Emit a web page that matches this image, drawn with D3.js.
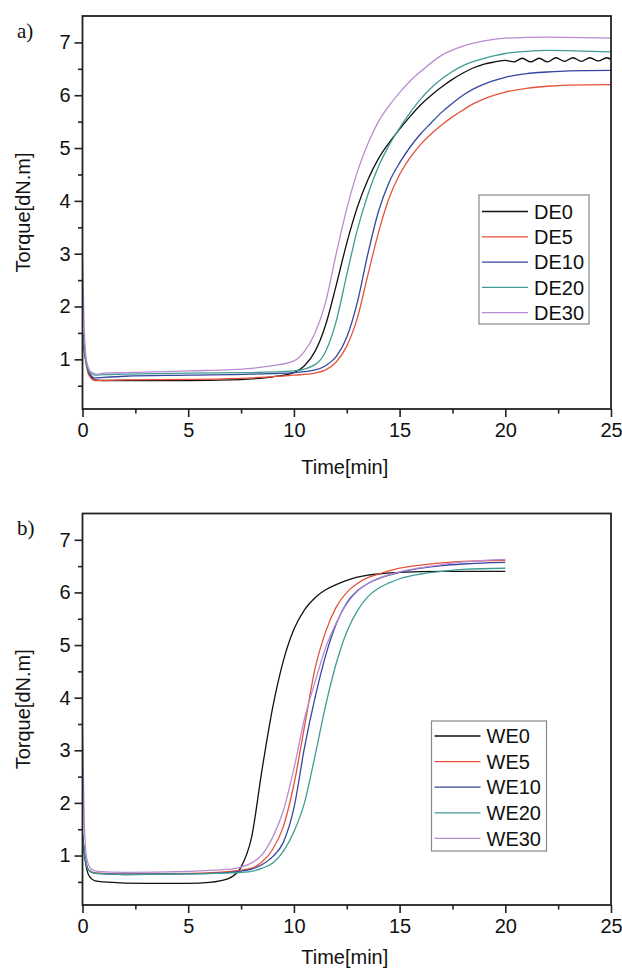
<!DOCTYPE html>
<html>
<head>
<meta charset="utf-8">
<script src="https://cdn.jsdelivr.net/npm/d3@7"></script>
<style>
  html, body { margin: 0; padding: 0; background: #fff; }
  svg { display: block; }
  text { font-family: "Liberation Sans", Arial, sans-serif; fill: #111; }
</style>
</head>
<body>
<svg id="chart" width="622" height="971"></svg>
<script>
// ---------------- DATA ----------------
const xTicks = [0, 5, 10, 15, 20, 25];
const yTicks = [1, 2, 3, 4, 5, 6, 7];

const seriesNamesA = ["DE0", "DE5", "DE10", "DE20", "DE30"];
const seriesNamesB = ["WE0", "WE5", "WE10", "WE20", "WE30"];

// [time(min), torque(dN.m)]
const DE0 = [[0,1.5],[0.15,1.0],[0.3,0.75],[0.6,0.61],[1,0.6],[2,0.6],[3,0.6],[5,0.6],[7,0.61],[8,0.63],[9,0.67],[10,0.75],[10.5,0.88],[11,1.15],[11.5,1.65],[12,2.4],[12.5,3.2],[13,3.88],[13.5,4.4],[14,4.8],[14.5,5.1],[15,5.36],[15.5,5.6],[16,5.82],[16.5,6.0],[17,6.16],[17.5,6.3],[18,6.42],[18.5,6.52],[19,6.59],[19.5,6.63],[20,6.66],[20.4,6.63],[20.8,6.7],[21.2,6.63],[21.6,6.7],[22,6.63],[22.4,6.71],[22.8,6.64],[23.2,6.71],[23.6,6.64],[24,6.71],[24.4,6.65],[24.8,6.71],[25,6.68]];
const DE5 = [[0,1.4],[0.15,0.95],[0.3,0.7],[0.6,0.6],[1,0.6],[2,0.61],[5,0.62],[8,0.65],[10,0.7],[11,0.74],[11.5,0.8],[12,0.95],[12.5,1.25],[13,1.78],[13.5,2.6],[14,3.4],[14.5,4.05],[15,4.5],[15.5,4.82],[16,5.07],[16.5,5.27],[17,5.44],[17.5,5.59],[18,5.72],[18.5,5.84],[19,5.93],[19.5,6.0],[20,6.06],[21,6.13],[22,6.17],[23,6.19],[25,6.2]];
const DE10 = [[0,1.5],[0.15,1.0],[0.3,0.75],[0.6,0.65],[1,0.66],[2,0.68],[5,0.7],[8,0.72],[10,0.75],[11,0.8],[11.5,0.88],[12,1.05],[12.5,1.42],[13,2.08],[13.5,3.0],[14,3.8],[14.5,4.35],[15,4.72],[15.5,5.02],[16,5.27],[16.5,5.48],[17,5.68],[17.5,5.85],[18,6.0],[18.5,6.12],[19,6.21],[19.5,6.28],[20,6.34],[21,6.41],[22,6.44],[23,6.46],[25,6.47]];
const DE20 = [[0,1.5],[0.15,1.0],[0.3,0.78],[0.6,0.7],[1,0.71],[2,0.72],[5,0.74],[8,0.75],[10,0.78],[11,0.9],[11.5,1.15],[12,1.72],[12.5,2.6],[13,3.45],[13.5,4.12],[14,4.65],[14.5,5.05],[15,5.38],[15.5,5.67],[16,5.93],[16.5,6.14],[17,6.31],[17.5,6.45],[18,6.56],[18.5,6.64],[19,6.7],[19.5,6.75],[20,6.79],[21,6.83],[22,6.85],[25,6.82]];
const DE30 = [[0,2.9],[0.08,1.6],[0.2,0.95],[0.4,0.76],[0.7,0.72],[1,0.74],[2,0.75],[5,0.78],[8,0.83],[9,0.88],[10,0.97],[10.5,1.15],[11,1.5],[11.5,2.08],[12,3.0],[12.5,3.85],[13,4.55],[13.5,5.08],[14,5.5],[14.5,5.8],[15,6.05],[15.5,6.27],[16,6.45],[17,6.76],[18,6.93],[19,7.03],[20,7.08],[22,7.1],[25,7.08]];

const WE0 = [[0,1.3],[0.15,0.85],[0.3,0.62],[0.6,0.52],[1,0.5],[3,0.47],[5,0.47],[6,0.49],[6.5,0.52],[7,0.58],[7.5,0.78],[8,1.35],[8.5,2.65],[9,3.82],[9.5,4.7],[10,5.3],[10.5,5.67],[11,5.9],[11.5,6.05],[12,6.15],[12.5,6.23],[13,6.29],[13.5,6.33],[14,6.35],[15,6.38],[17,6.4],[20,6.4]];
const WE5 = [[0,1.4],[0.15,0.9],[0.3,0.72],[0.6,0.67],[2,0.65],[5,0.66],[7,0.7],[8,0.76],[8.5,0.88],[9,1.12],[9.5,1.55],[10,2.35],[10.5,3.45],[11,4.55],[11.5,5.25],[12,5.72],[12.5,6.0],[13,6.17],[13.5,6.28],[14,6.35],[14.5,6.41],[15,6.46],[16,6.52],[17,6.56],[18,6.59],[20,6.61]];
const WE10 = [[0,1.4],[0.15,0.9],[0.3,0.72],[0.6,0.66],[2,0.64],[5,0.65],[7,0.68],[8,0.74],[8.5,0.83],[9,0.98],[9.5,1.25],[10,1.9],[10.5,3.05],[11,4.0],[11.5,4.8],[12,5.4],[12.5,5.8],[13,6.03],[13.5,6.17],[14,6.26],[15,6.38],[16,6.46],[17,6.51],[18,6.54],[20,6.57]];
const WE20 = [[0,1.4],[0.15,0.9],[0.3,0.72],[0.6,0.66],[2,0.64],[5,0.65],[7,0.67],[8,0.7],[8.5,0.76],[9,0.86],[9.5,1.08],[10,1.45],[10.5,2.0],[11,2.9],[11.5,3.85],[12,4.65],[12.5,5.25],[13,5.65],[13.5,5.92],[14,6.08],[14.5,6.18],[15,6.26],[16,6.35],[17,6.4],[18,6.44],[20,6.46]];
const WE30 = [[0,3.4],[0.08,1.7],[0.2,0.95],[0.4,0.75],[0.7,0.7],[2,0.68],[5,0.7],[7,0.74],[7.5,0.78],[8,0.86],[8.5,1.02],[9,1.35],[9.5,1.85],[10,2.65],[10.5,3.6],[11,4.3],[11.5,4.95],[12,5.42],[12.5,5.78],[13,6.02],[13.5,6.17],[14,6.27],[15,6.39],[16,6.47],[17,6.53],[18,6.58],[20,6.63]];

const seriesColors = ["#111111", "#e5533a", "#34469e", "#3f9c94", "#b98bd1"];

// ---------------- DRAW ----------------
const svg = d3.select("#chart");

function drawPanel(cfg) {
  const { left, right, top, bottom, names, data, tag, tagY, legend, titleY } = cfg;
  const x = d3.scaleLinear().domain([0, 25]).range([left, right]);
  const y = d3.scaleLinear().domain([0.06, 7.5]).range([bottom, top]);
  const g = svg.append("g");

  const clipId = "clip-" + tag;
  svg.append("clipPath").attr("id", clipId)
    .append("rect").attr("x", left).attr("y", top).attr("width", right - left).attr("height", bottom - top);
  const line = d3.line().x(d => x(d[0])).y(d => y(d[1])).curve(d3.curveMonotoneX);
  const cg = g.append("g").attr("clip-path", `url(#${clipId})`);
  data.forEach((s, i) => {
    cg.append("path").datum(s).attr("d", line)
      .attr("fill", "none").attr("stroke", seriesColors[i]).attr("stroke-width", 1.3);
  });

  const xAxis = d3.axisBottom(x).tickValues(xTicks).tickSize(8).tickPadding(6).tickFormat(d3.format("d"));
  const xMinor = d3.axisBottom(x).tickValues(d3.range(2.5, 25, 5)).tickSize(4.5).tickFormat("");
  const yAxis = d3.axisLeft(y).tickValues(yTicks).tickSize(8).tickPadding(4).tickFormat(d3.format("d"));
  const yMinor = d3.axisLeft(y).tickValues(d3.range(0.5, 7.5, 1)).tickSize(4.5).tickFormat("");

  const gx = g.append("g").attr("transform", `translate(0,${bottom})`).call(xAxis);
  g.append("g").attr("transform", `translate(0,${bottom})`).call(xMinor);
  g.append("g").attr("transform", `translate(${left},0)`).call(yAxis);
  g.append("g").attr("transform", `translate(${left},0)`).call(yMinor);
  g.selectAll(".domain").remove();
  g.selectAll(".tick line").attr("stroke", "#222").attr("stroke-width", 1.6);
  g.selectAll(".tick text").style("font-size", "20px").attr("fill", "#111")
    .style("font-family", "'Liberation Sans', Arial, sans-serif");
  gx.selectAll(".tick text").attr("dy", "0.71em");

  g.append("rect").attr("x", left).attr("y", top).attr("width", right - left).attr("height", bottom - top)
    .attr("fill", "none").attr("stroke", "#222").attr("stroke-width", 1.8);

  g.append("text").attr("x", (left + right) / 2 - 2).attr("y", titleY)
    .attr("text-anchor", "middle").style("font-size", "20px").text("Time[min]");
  g.append("text")
    .attr("transform", `translate(30,${(top + bottom) / 2}) rotate(-90)`)
    .attr("text-anchor", "middle").style("font-size", "20px").text("Torque[dN.m]");
  g.append("text").attr("x", 17).attr("y", tagY)
    .style("font-family", "'Liberation Serif', 'Times New Roman', serif").style("font-size", "21px")
    .text(tag + ")");

  const lg = g.append("g");
  lg.append("rect").attr("x", legend.x).attr("y", legend.y).attr("width", legend.w).attr("height", legend.h)
    .attr("fill", "#fff").attr("stroke", "#888").attr("stroke-width", 1.2);
  names.forEach((n, i) => {
    const cy = legend.y + legend.first + i * legend.step;
    lg.append("line").attr("x1", legend.x + 3).attr("x2", legend.x + 49).attr("y1", cy).attr("y2", cy)
      .attr("stroke", seriesColors[i]).attr("stroke-width", 1.3);
    lg.append("text").attr("x", legend.x + 55).attr("y", cy).attr("dy", "0.36em")
      .style("font-size", "20px").text(n);
  });
}

drawPanel({
  left: 82.5, right: 611, top: 16, bottom: 409,
  names: seriesNamesA, data: [DE0, DE5, DE10, DE20, DE30],
  tag: "a", tagY: 38, titleY: 474,
  legend: { x: 479, y: 195, w: 110, h: 129, first: 16.5, step: 25.3 }
});

drawPanel({
  left: 82.5, right: 611, top: 513.5, bottom: 905,
  names: seriesNamesB, data: [WE0, WE5, WE10, WE20, WE30],
  tag: "b", tagY: 535, titleY: 964,
  legend: { x: 431.5, y: 721, w: 115, h: 130, first: 15, step: 25.6 }
});
</script>
</body>
</html>
